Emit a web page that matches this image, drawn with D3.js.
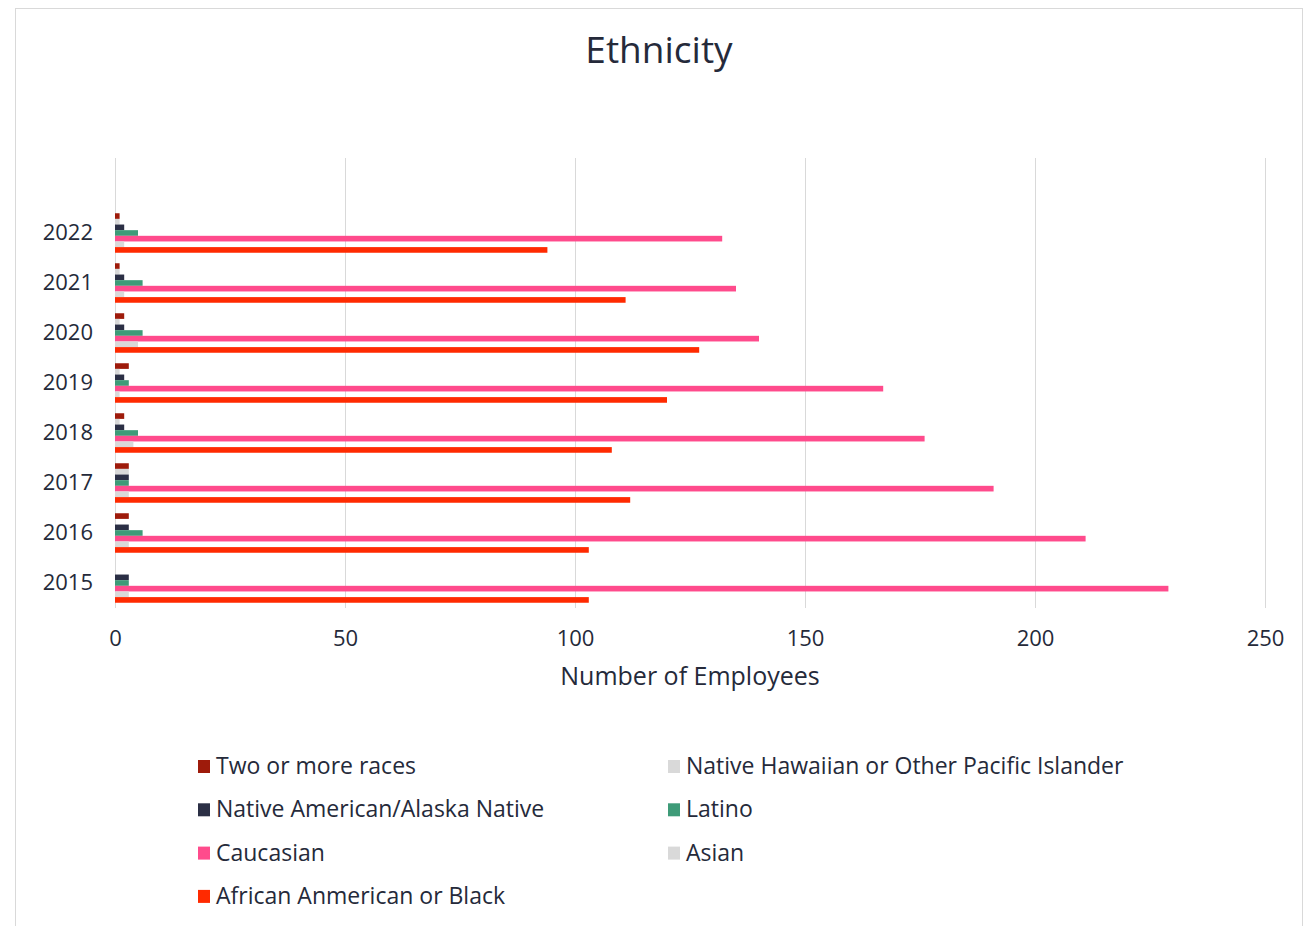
<!DOCTYPE html>
<html>
<head>
<meta charset="utf-8">
<script src="https://cdn.jsdelivr.net/npm/d3@7"></script>
<style>
  body { margin: 0; background: #fff; }
  svg text { font-family: "Open Sans", "Noto Sans", sans-serif; fill: #252a3a; }
  .grid line { stroke: #d9d9d9; stroke-width: 1; }
  .axis .domain { display: none; }
</style>
</head>
<body>
<div id="chart"></div>
<script>

// categories (bottom to top in the chart)
const years = ["2015", "2016", "2017", "2018", "2019", "2020", "2021", "2022"];

// series, top-to-bottom order inside each year
const seriesNames = [
    "Two or more races",
    "Native Hawaiian or Other Pacific Islander",
    "Native American/Alaska Native",
    "Latino",
    "Caucasian",
    "Asian",
    "African Anmerican or Black"
];

const twoOrMore      = [0, 3, 3, 2, 3, 2, 1, 1];
const nativeHawaiian = [0, 0, 3, 1, 1, 1, 1, 1];
const nativeAmerican = [3, 3, 3, 2, 2, 2, 2, 2];
const latino         = [3, 6, 3, 5, 3, 6, 6, 5];
const caucasian      = [229, 211, 191, 176, 167, 140, 135, 132];
const asian          = [3, 3, 3, 4, 1, 5, 2, 2];
const africanAm      = [103, 103, 112, 108, 120, 127, 111, 94];

const xTicks = [0, 50, 100, 150, 200, 250];

const colors = ["#9e1b0b", "#d9d9d9", "#2b2f45", "#3e9b78", "#ff4b8c", "#d9d9d9", "#ff2a00"];

const seriesValues = [twoOrMore, nativeHawaiian, nativeAmerican, latino, caucasian, asian, africanAm];

// flatten into rows for d3
const rows = [];
years.forEach((yr, i) => {
    seriesNames.forEach((s, j) => {
        rows.push({year: yr, series: s, value: seriesValues[j][i], color: colors[j]});
    });
});

const W = 1309, H = 926;
const svg = d3.select("#chart").append("svg")
    .attr("width", W)
    .attr("height", H);

// chart frame
svg.append("rect")
    .attr("x", 15.5).attr("y", 8.5)
    .attr("width", 1287).attr("height", 940)
    .attr("fill", "#fff")
    .attr("stroke", "#d9d9d9");

// title
svg.append("text")
    .attr("x", 659).attr("y", 63)
    .attr("text-anchor", "middle")
    .style("font-size", "37px")
    .text("Ethnicity");

// plot area
const plot = {left: 115, right: 1265, top: 158, bottom: 608};

const x = d3.scaleLinear()
    .domain([0, 250])
    .range([plot.left, plot.right]);

const y = d3.scaleBand()
    .domain(years)
    .range([plot.bottom, plot.top + 50])
    .paddingInner(0.21)
    .paddingOuter(0.105);

const ySub = d3.scaleBand()
    .domain(seriesNames)
    .range([0, y.bandwidth()]);

// gridlines + x tick labels
const xAxis = d3.axisBottom(x)
    .tickValues(xTicks)
    .tickSize(-(plot.bottom - plot.top))
    .tickPadding(22);

const gx = svg.append("g")
    .attr("class", "axis grid")
    .attr("transform", `translate(0,${plot.bottom})`)
    .call(xAxis);
gx.selectAll("text").style("font-size", "22px");
gx.selectAll("line").attr("stroke", "#d9d9d9");

// y labels
const yAxis = d3.axisLeft(y)
    .tickSize(0)
    .tickPadding(22);

const gy = svg.append("g")
    .attr("class", "axis")
    .attr("transform", `translate(${plot.left},0)`)
    .call(yAxis);
gy.selectAll("text").style("font-size", "22px");

// bars
svg.append("g").selectAll("rect")
    .data(rows)
    .join("rect")
    .attr("x", x(0))
    .attr("y", d => y(d.year) + ySub(d.series))
    .attr("width", d => x(d.value) - x(0))
    .attr("height", ySub.bandwidth())
    .attr("fill", d => d.color);

// x axis title
svg.append("text")
    .attr("x", (plot.left + plot.right) / 2)
    .attr("y", 685)
    .attr("text-anchor", "middle")
    .style("font-size", "25px")
    .text("Number of Employees");

// legend, two columns
const legend = svg.append("g").selectAll("g")
    .data(seriesNames)
    .join("g")
    .attr("transform", (d, i) => `translate(${i % 2 === 0 ? 198 : 668},${760 + Math.floor(i / 2) * 43.3})`);

legend.append("rect")
    .attr("width", 12).attr("height", 13)
    .attr("fill", (d, i) => colors[i]);

legend.append("text")
    .attr("x", 18).attr("y", 14)
    .style("font-size", "23px")
    .text(d => d);

</script>
</body>
</html>
